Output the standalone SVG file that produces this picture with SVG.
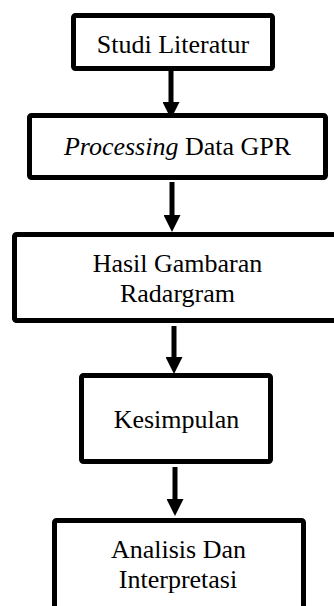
<svg xmlns="http://www.w3.org/2000/svg" width="334" height="606" viewBox="0 0 334 606">
  <style>
    .box { fill: #ffffff; stroke: #000000; stroke-width: 5; }
    .lbl { font-family: "Times New Roman", "Liberation Serif", serif; font-size: 26px; fill: #000000; text-anchor: middle; }
    .conn { stroke: #000000; stroke-width: 5; fill: none; marker-end: url(#arrow); }
  </style>
  <defs>
    <marker id="arrow" markerUnits="userSpaceOnUse" markerWidth="17" markerHeight="17" viewBox="0 0 17 17" refX="7" refY="8.5" orient="auto">
      <path d="M0,0 L17,8.5 L0,17 z" fill="#000000"/>
    </marker>
  </defs>
  <rect width="334" height="606" fill="#ffffff"/>
  <g id="connectors">
    <line class="conn" x1="171" y1="71" x2="171" y2="109"/>
    <line class="conn" x1="172" y1="182" x2="172" y2="222"/>
    <line class="conn" x1="174" y1="326" x2="174" y2="364"/>
    <line class="conn" x1="175" y1="467" x2="175" y2="506"/>
  </g>
  <g id="studi-literatur">
    <rect class="box" x="73.5" y="15.5" width="199" height="53" rx="2"/>
    <text class="lbl" x="173" y="53">Studi Literatur</text>
  </g>
  <g id="processing-data-gpr">
    <rect class="box" x="29.5" y="115.5" width="296" height="62" rx="2"/>
    <text class="lbl" x="177.5" y="155"><tspan font-style="italic">Processing</tspan> Data GPR</text>
  </g>
  <g id="hasil-gambaran">
    <rect class="box" x="14.5" y="234.5" width="326" height="86" rx="2"/>
    <text class="lbl" x="177.5" y="272">Hasil Gambaran</text>
    <text class="lbl" x="177.5" y="302">Radargram</text>
  </g>
  <g id="kesimpulan">
    <rect class="box" x="81.5" y="375.5" width="189" height="86" rx="2"/>
    <text class="lbl" x="176.5" y="428">Kesimpulan</text>
  </g>
  <g id="analisis">
    <rect class="box" x="54.5" y="520.5" width="249" height="100" rx="2"/>
    <text class="lbl" x="178.5" y="558">Analisis Dan</text>
    <text class="lbl" x="178" y="588">Interpretasi</text>
  </g>
</svg>
